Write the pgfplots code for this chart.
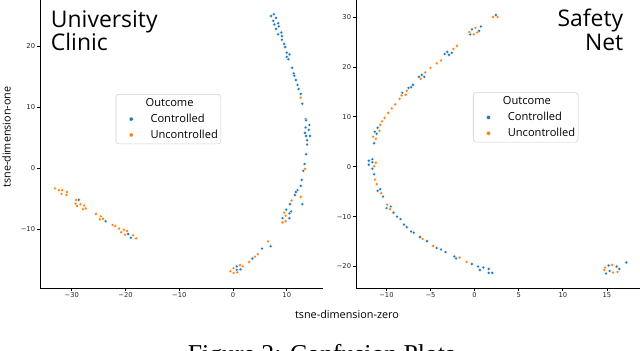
\documentclass[border=0pt]{standalone}
\usepackage{fontspec}
\setmainfont{Open Sans}
\newfontfamily\tickfont{DejaVu Sans}
\newfontfamily\capfont{Liberation Serif}
\usepackage{pgfplots}
\pgfplotsset{compat=1.18}

\definecolor{tabblue}{HTML}{1F77B4}
\definecolor{taborange}{HTML}{FF7F0E}

% 1px of the reference = 0.025cm
\pgfplotsset{
  tsne/.style={
    scale only axis, anchor=south west,
    axis lines*=left,
    axis line style={black, line width=0.7pt},
    tick align=outside,
    major tick length=2.1pt,
    tick style={black, line width=0.55pt},
    tick label style={font=\tickfont\fontsize{4.8}{5.5}\selectfont, text=black!85, inner sep=1.2pt},
    legend cell align=left,
    legend image code/.code={%
      \path (0cm,0cm) (0.6cm,0cm);
      \draw[##1, mark size=1.5pt] plot coordinates {(0.3cm,0cm)};},
    legend style={draw=black!18, rounded corners=2pt, fill=white, anchor=north west,
      font=\fontsize{7.9}{9}\selectfont, inner xsep=2.1pt, inner ysep=0.7pt,
      row sep=0pt, column sep=5pt,
      nodes={inner sep=0pt, text height=8pt, text depth=3.3pt}},
  },
  ctrl/.style={only marks, mark=*, mark size=1.25pt,
    mark options={fill=tabblue, draw=white, line width=0.25pt}},
  unctrl/.style={only marks, mark=*, mark size=1.25pt,
    mark options={fill=taborange, draw=white, line width=0.25pt}},
}

\begin{document}
\begin{tikzpicture}
\useasboundingbox (0,0) rectangle (16cm,-8.75cm);
\clip (0,0) rectangle (16cm,-8.75cm);

% ---- University Clinic
\begin{axis}[tsne, at={(1.0cm,-7.2cm)}, width=7.075cm, height=7.55cm,
  xmin=-35.91, xmax=16.74, ymin=-19.66, ymax=29.93,
  xtick={-30,-20,-10,0,10}, xticklabels={−30,−20,−10,0,10},
  ytick={-10,0,10,20}, yticklabels={−10,0,10,20},
  legend style={at={(0.2675,0.6424)}}]
\addlegendimage{empty legend}
\addplot[ctrl] coordinates {
  (7.6,25.3) (7.1,25.0) (8.0,24.7) (7.5,24.2) (8.4,23.8) (7.7,23.6) (8.5,23.3)
  (8.0,22.9) (9.0,22.3) (8.4,22.0) (9.1,21.7) (9.1,21.1) (9.5,20.4) (9.7,19.9)
  (10.0,19.0) (10.5,18.7) (10.0,18.3) (10.3,17.9) (11.0,16.5) (11.3,15.6)
  (11.4,15.2) (11.7,14.5) (12.0,13.7) (12.2,13.0) (12.6,12.2) (12.9,10.6)
  (13.5,8.1) (13.6,7.9) (14.2,7.1) (13.5,6.7) (14.1,6.3) (13.4,5.8) (13.6,5.3)
  (14.3,5.3) (13.8,4.6) (13.8,3.9) (13.6,2.3) (13.3,0.7) (13.1,-0.4) (12.8,-1.9)
  (12.6,-2.9) (12.0,-3.6) (11.7,-3.9) (11.5,-4.4) (10.6,-5.9) (12.9,-5.9)
  (9.9,-6.8) (10.8,-7.1) (10.5,-7.4) (9.2,-8.2) (10.5,-8.2)
  (7.0,-12.8) (5.4,-13.2) (3.6,-14.8) (0.7,-16.1) (0.7,-16.7) (1.4,-16.6)
  (-28.7,-5.2) (-23.7,-8.7) (-19.5,-10.8) (-19.0,-11.4)
};
\addplot[unctrl] coordinates {
  (12.6,11.6) (13.4,-0.1) (12.6,-4.7) (10.9,-5.3) (9.5,-7.3) (9.8,-7.8)
  (9.8,-8.7) (9.2,-8.9)
  (6.5,-12.0) (4.6,-14.1) (4.1,-14.5) (3.0,-15.4) (1.3,-15.9) (1.8,-16.1)
  (0.1,-16.4) (-0.5,-16.9) (0.1,-17.2) (0.8,-17.1)
  (-33.1,-3.3) (-32.4,-3.6) (-31.8,-3.6) (-30.9,-3.9) (-31.9,-4.2) (-31.0,-4.4)
  (-29.2,-5.2) (-29.3,-5.8) (-28.4,-5.9) (-29.0,-6.2) (-27.7,-6.1) (-27.9,-6.7)
  (-27.4,-6.6) (-25.5,-7.5) (-24.6,-7.9) (-24.8,-8.4) (-24.2,-8.3) (-22.4,-9.3)
  (-21.9,-9.5) (-21.2,-9.9) (-20.8,-10.5) (-20.3,-10.1) (-19.7,-10.3)
  (-20.1,-10.9) (-18.6,-11.0) (-18.0,-11.5)
};
\legend{\hspace*{-3.5pt}Outcome, Controlled, Uncontrolled}
\end{axis}

% ---- Safety Net
\begin{axis}[tsne, at={(8.9cm,-7.2cm)}, width=7.225cm, height=7.55cm,
  xmin=-13.45, xmax=19.32, ymin=-24.31, ymax=36.21,
  xtick={-10,-5,0,5,10,15}, xticklabels={−10,−5,0,5,10,15},
  ytick={-20,-10,0,10,20,30}, yticklabels={−20,−10,0,10,20,30},
  legend style={at={(0.4048,0.648)}}]
\addlegendimage{empty legend}
\addplot[ctrl] coordinates {
  (2.4,30.4) (0.7,28.1) (-0.3,27.5) (0.5,27.2) (-0.5,26.5) (-3.1,23.0)
  (-2.6,22.8) (-3.4,22.6) (-2.9,22.4) (-6.0,18.4) (-5.7,18.0) (-6.3,18.0)
  (-7.0,16.4) (-7.2,15.9) (-7.5,15.8) (-8.2,14.8) (-11.0,7.8) (-11.3,7.0)
  (-11.1,6.6) (-11.4,4.7) (-11.6,1.5) (-12.0,1.2) (-11.6,0.9) (-12.0,0.4)
  (-11.6,-0.4) (-11.4,-1.5) (-10.7,-4.5) (-11.0,-4.8) (-10.4,-6.0) (-9.5,-8.0)
  (-10.0,-8.3) (-9.2,-9.2) (-8.8,-10.0) (-8.4,-10.5) (-8.0,-11.6) (-7.7,-12.1)
  (-7.2,-13.0) (-6.9,-13.2) (-6.2,-14.1) (-5.4,-14.9) (-4.3,-16.3) (-3.8,-16.6)
  (-3.3,-17.1) (-2.3,-18.0) (-2.1,-18.4) (-0.3,-19.5) (0.4,-20.0) (1.0,-20.2)
  (0.6,-20.7) (1.6,-20.5) (1.6,-21.3) (2.0,-21.3)
  (17.2,-19.2) (15.2,-19.8) (16.1,-20.0) (16.4,-20.5) (15.3,-20.9) (14.9,-21.4)
};
\addplot[unctrl] coordinates {
  (2.1,30.0) (2.6,30.0) (0.1,27.8) (-0.6,27.0) (0.3,26.9) (-0.1,26.5)
  (-2.0,24.2) (-2.4,23.6) (-3.8,21.3) (-4.3,20.7) (-5.0,19.8) (-5.6,18.9)
  (-6.1,17.6) (-7.7,15.2) (-7.8,14.4) (-8.3,14.3) (-8.5,13.6) (-9.0,12.5)
  (-9.4,11.7) (-9.8,10.8) (-10.2,9.8) (-10.5,9.1) (-10.7,8.4) (-10.8,7.2)
  (-11.5,6.0) (-11.2,5.6) (-11.2,0.8) (-11.4,0.1) (-11.3,-2.6) (-11.1,-3.5)
  (-10.6,-5.3) (-9.9,-7.6) (-9.6,-8.5) (-5.9,-14.5) (-4.7,-15.9) (-1.7,-18.2)
  (-0.9,-19.1)
  (15.6,-19.7) (14.8,-20.2) (14.7,-20.7) (15.7,-21.2) (16.2,-21.1)
};
\legend{\hspace*{-3.5pt}Outcome, Controlled, Uncontrolled}
\end{axis}

% panel titles
\node[anchor=base west, inner sep=0pt, font=\fontsize{16.3}{16.3}\selectfont] at (1.2675cm,-0.6825cm) {University};
\node[anchor=base west, inner sep=0pt, font=\fontsize{16.3}{16.3}\selectfont] at (1.2675cm,-1.25cm) {Clinic};
\node[anchor=base east, inner sep=0pt, font=\fontsize{16.3}{16.3}\selectfont] at (15.5875cm,-0.6675cm) {Safety};
\node[anchor=base east, inner sep=0pt, font=\fontsize{16.3}{16.3}\selectfont] at (15.5875cm,-1.25cm) {Net};

% shared axis labels
\node[rotate=90, inner sep=0pt, font=\fontsize{7.7}{9}\selectfont] at (0.1625cm,-3.425cm) {tsne-dimension-one};
\node[inner sep=0pt, font=\fontsize{7.7}{9}\selectfont] at (8.675cm,-7.85cm) {tsne-dimension-zero};

% caption, cut by the bottom edge as in the reference
\node[anchor=base, inner sep=0pt, font=\capfont\fontsize{18.3}{20}\selectfont] at (8.0375cm,-9.05cm) {Figure 2: Confusion Plots};
\end{tikzpicture}
\end{document}
